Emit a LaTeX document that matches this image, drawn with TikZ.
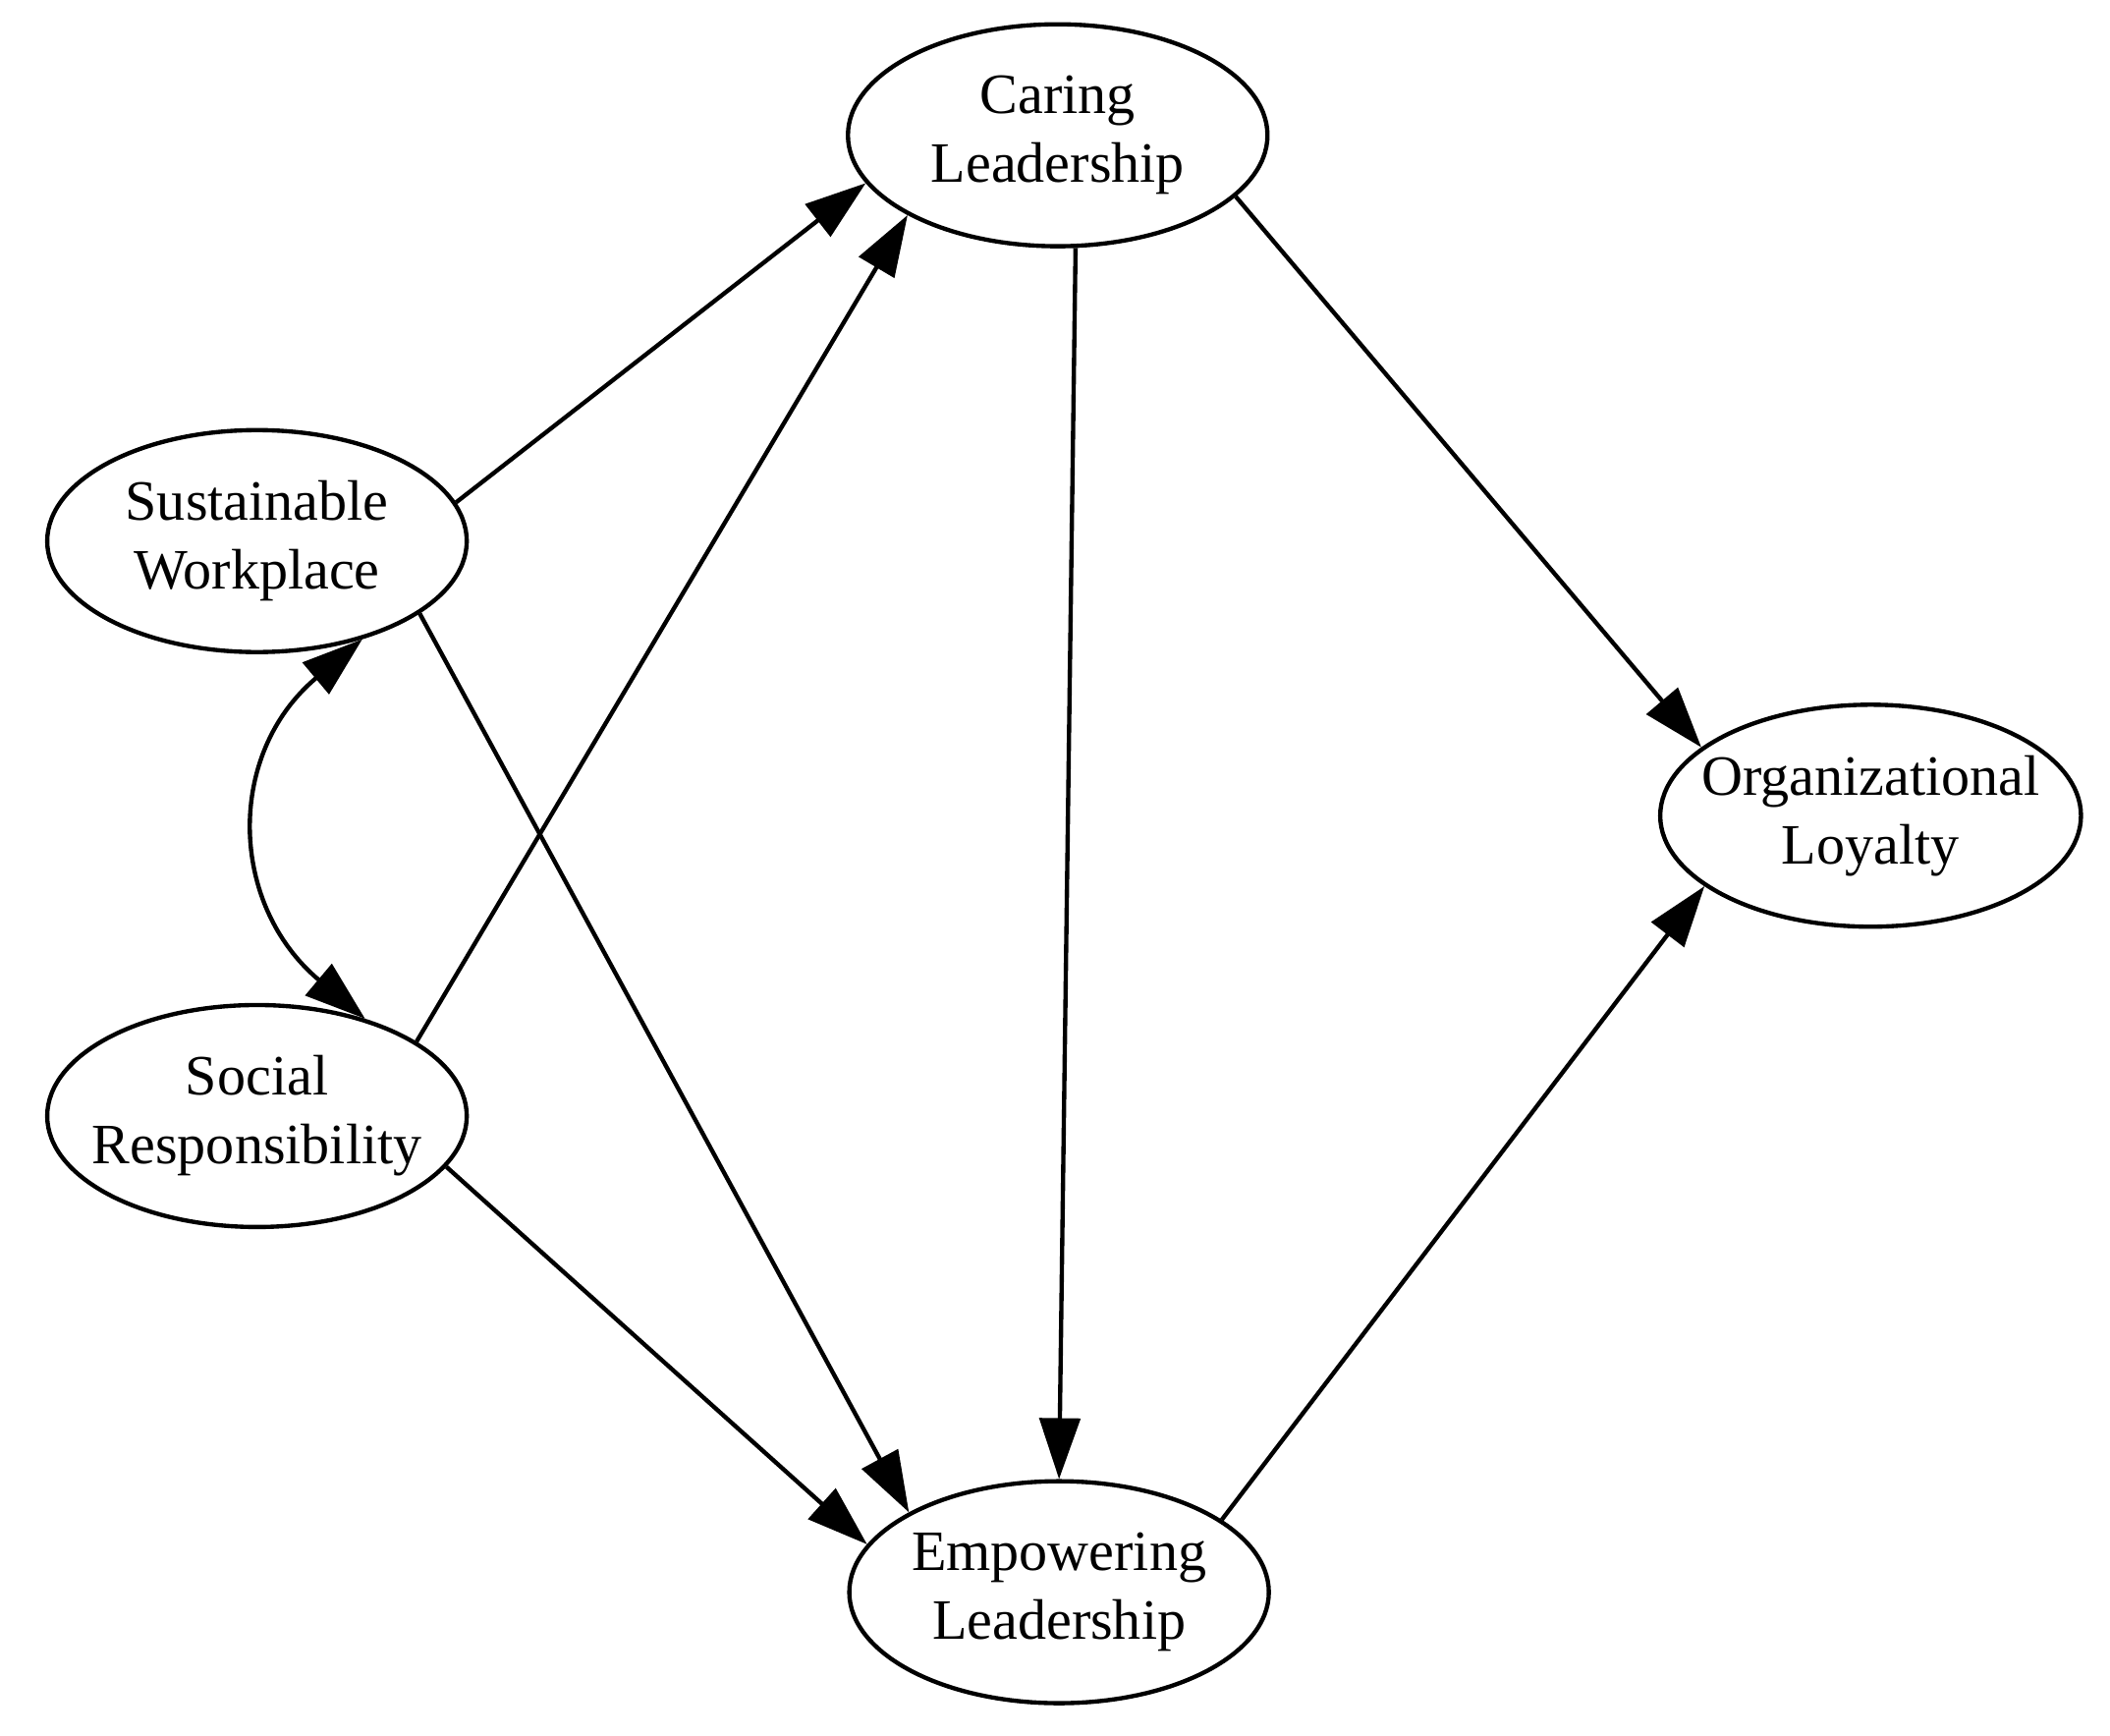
\documentclass[tikz,border=0pt]{standalone}
\usepackage{fontspec}
\setmainfont{Liberation Serif}
\usetikzlibrary{shapes.geometric,arrows.meta}
\begin{document}
\begin{tikzpicture}[x=0.01cm,y=-0.01cm,
  v/.style={ellipse,draw,line width=0.9pt,minimum width=3.1cm,minimum height=1.64cm,inner xsep=-0.15cm,inner ysep=0pt,align=center,font=\fontsize{12}{14.5}\selectfont},
  e/.style={line width=0.9pt,-{Triangle[length=0.45cm,width=0.3cm]}}]
\useasboundingbox (0,0) rectangle (1560,1283);
\node[v] (CL) at (782,100) {Caring\\Leadership};
\node[v] (SW) at (190,400) {Sustainable\\Workplace};
\node[v] (SR) at (190,825) {Social\\Responsibility};
\node[v] (OL) at (1383,603) {Organizational\\Loyalty};
\node[v] (EL) at (783,1177) {Empowering\\Leadership};
\draw[e] (SW.11) -- (CL.-166);
\draw[e] (SR.25) -- (CL.-152);
\draw[e] (SW.-24) -- (EL.152);
\draw[e] (SR.-15) -- (EL.166);
\draw[e] (CL.-81) -- (EL.90);
\draw[e] (CL.-19) -- (OL.158);
\draw[e] (EL.24) -- (OL.-157);
\draw[line width=0.9pt,{Triangle[length=0.45cm,width=0.3cm]}-{Triangle[length=0.45cm,width=0.3cm]}] (SW.-43) to[out=220,in=140,looseness=1.2] (SR.42);
\end{tikzpicture}
\end{document}
